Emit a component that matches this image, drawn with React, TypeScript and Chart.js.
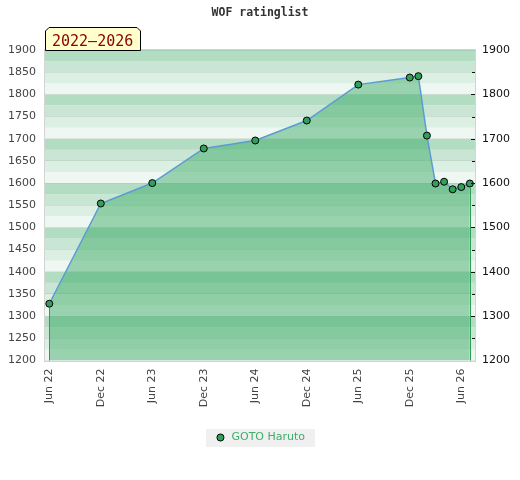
import React, { useEffect, useRef } from 'react';
import { Chart, registerables } from 'chart.js';

Chart.register(...registerables);

const titleText = 'WOF ratinglist';
const periodLabel = '2022–2026';
const seriesName = 'GOTO Haruto';

const dates = [
  '2022-06', '2022-12', '2023-06', '2023-12', '2024-06', '2024-12', '2025-06',
  '2025-12', '2026-01', '2026-02', '2026-03', '2026-04', '2026-05', '2026-06', '2026-07',
];
const ratings = [1328, 1554, 1600, 1678, 1696, 1741, 1822, 1838, 1841, 1707, 1599, 1603, 1586, 1591, 1599];

const xTickLabels = ['Jun 22', 'Dec 22', 'Jun 23', 'Dec 23', 'Jun 24', 'Dec 24', 'Jun 25', 'Dec 25', 'Jun 26'];
const yLeftTicks = [1200, 1250, 1300, 1350, 1400, 1450, 1500, 1550, 1600, 1650, 1700, 1750, 1800, 1850, 1900];
const yRightTicks = [1200, 1300, 1400, 1500, 1600, 1700, 1800, 1900];
const yRightMinorTicks = [1250, 1350, 1450, 1550, 1650, 1750, 1850];

const bandColors = ['#b3ddc3', '#c9e6d4', '#dcefe3', '#eff7f2'];
const monthNames = ['Jan', 'Feb', 'Mar', 'Apr', 'May', 'Jun', 'Jul', 'Aug', 'Sep', 'Oct', 'Nov', 'Dec'];

const BASE_YEAR = 2022;
const BASE_MONTH = 6;
const X_MIN = -0.5;
const X_MAX = 49.6;

function dateToIndex(d: string): number {
  const [y, m] = d.split('-').map(Number);
  return (y - BASE_YEAR) * 12 + (m - BASE_MONTH);
}
function labelToIndex(l: string): number {
  const [mn, yy] = l.split(' ');
  const m = monthNames.indexOf(mn) + 1;
  const y = 2000 + Number(yy);
  return (y - BASE_YEAR) * 12 + (m - BASE_MONTH);
}

const decorPlugin = {
  id: 'decor',
  beforeDraw(chart: any) {
    const { ctx, chartArea } = chart;
    const y = chart.scales.y;
    const { left, right } = chartArea;
    ctx.save();
    for (let v = 1200; v < 1900; v += 25) {
      const top = v + 25;
      const k = (((1900 - top) / 25) % 4 + 4) % 4;
      const py0 = y.getPixelForValue(top);
      const py1 = y.getPixelForValue(v);
      ctx.fillStyle = bandColors[k];
      ctx.fillRect(left, py0, right - left, py1 - py0);
    }
    const lg = chart.legend;
    if (lg && lg.legendHitBoxes && lg.legendHitBoxes.length) {
      const hb = lg.legendHitBoxes[0];
      const cx = hb.left + hb.width / 2;
      const cy = hb.top + hb.height / 2;
      ctx.fillStyle = '#f0f0f0';
      ctx.fillRect(Math.round(cx - 54.5), Math.round(cy - 9), 109, 18);
    }
    ctx.restore();
  },
  beforeDatasetsDraw(chart: any) {
    const { ctx, chartArea } = chart;
    const { left, right, top, bottom } = chartArea;
    ctx.save();
    ctx.strokeStyle = '#d4d4d4';
    ctx.lineWidth = 1;
    ctx.strokeRect(Math.round(left) - 0.5, Math.round(top) - 0.5, Math.round(right - left) + 1, Math.round(bottom - top) + 1);
    ctx.restore();
  },
  afterDatasetsDraw(chart: any) {
    const { ctx, chartArea } = chart;
    const x = chart.scales.x;
    const y = chart.scales.y;
    ctx.save();
    ctx.strokeStyle = '#2e9e52';
    ctx.lineWidth = 1;
    const edges = [0, ratings.length - 1];
    edges.forEach((i) => {
      const px = Math.round(x.getPixelForValue(dateToIndex(dates[i]))) + 0.5;
      const py = y.getPixelForValue(ratings[i]) + 4;
      ctx.beginPath();
      ctx.moveTo(px, py);
      ctx.lineTo(px, chartArea.bottom);
      ctx.stroke();
    });
    ctx.strokeStyle = '#111';
    const r = Math.round(chartArea.right);
    yRightTicks.concat(yRightMinorTicks).forEach((v) => {
      if (v === 1200 || v === 1900) return;
      const py = Math.round(y.getPixelForValue(v)) + 0.5;
      const len = yRightTicks.includes(v) ? 4 : 3;
      ctx.beginPath();
      ctx.moveTo(r - len, py);
      ctx.lineTo(r, py);
      ctx.stroke();
    });
    ctx.restore();
  },
  afterDraw(chart: any) {
    const { ctx, chartArea } = chart;
    const x0 = Math.round(chartArea.left) + 0.5;
    const x1 = x0 + 95;
    const y1 = Math.round(chartArea.top) + 0.5;
    const y0 = y1 - 23;
    const c = 3.5;
    ctx.save();
    ctx.beginPath();
    ctx.moveTo(x0, y1);
    ctx.lineTo(x0, y0 + c);
    ctx.lineTo(x0 + c, y0);
    ctx.lineTo(x1 - c, y0);
    ctx.lineTo(x1, y0 + c);
    ctx.lineTo(x1, y1);
    ctx.closePath();
    ctx.fillStyle = '#ffffcc';
    ctx.fill();
    ctx.strokeStyle = '#000';
    ctx.lineWidth = 1;
    ctx.stroke();
    ctx.fillStyle = '#8b0000';
    ctx.font = '15px "DejaVu Sans Mono"';
    ctx.textBaseline = 'alphabetic';
    ctx.textAlign = 'left';
    ctx.fillText(periodLabel, x0 + 6.5, y1 - 5);
    ctx.restore();
  },
};

export default function App() {
  const ref = useRef<HTMLCanvasElement | null>(null);
  useEffect(() => {
    document.body.style.margin = '0';
    if (!ref.current) return;
    const chart = new Chart(ref.current, {
      type: 'line',
      data: {
        datasets: [
          {
            label: seriesName,
            data: dates.map((d, i) => ({ x: dateToIndex(d), y: ratings[i] })),
            borderColor: '#5b9bd5',
            borderWidth: 1.5,
            backgroundColor: 'rgba(58,170,100,0.48)',
            fill: 'start',
            tension: 0,
            pointRadius: 3.5,
            pointHoverRadius: 3.5,
            pointBackgroundColor: '#30a05a',
            pointBorderColor: '#000',
            pointBorderWidth: 1,
          },
        ],
      },
      options: {
        responsive: false,
        animation: false,
        layout: { padding: { bottom: 27, top: 0, left: 0, right: 0 } },
        plugins: {
          title: {
            display: true,
            text: titleText,
            color: '#333',
            font: { family: '"DejaVu Sans Mono"', size: 11.5, weight: 'bold' },
            padding: { top: 6, bottom: 30.2 },
          },
          legend: {
            display: true,
            position: 'bottom',
            labels: {
              usePointStyle: true,
              pointStyle: 'circle',
              boxWidth: 11,
              boxHeight: 5,
              padding: 10,
              color: '#3cae6a',
              font: { family: '"DejaVu Sans"', size: 11 },
            },
          },
          tooltip: { enabled: false },
        },
        scales: {
          x: {
            type: 'linear',
            min: X_MIN,
            max: X_MAX,
            afterBuildTicks: (scale: any) => {
              scale.ticks = xTickLabels.map((l) => ({ value: labelToIndex(l) }));
            },
            afterFit: (scale: any) => {
              scale.height = 61.5;
            },
            ticks: {
              autoSkip: false,
              minRotation: 90,
              maxRotation: 90,
              padding: 8,
              color: '#444',
              font: { family: '"DejaVu Sans"', size: 11 },
              callback: (_v: any, i: number) => xTickLabels[i],
            },
            grid: { display: false, drawTicks: false },
            border: { display: false },
          },
          y: {
            type: 'linear',
            position: 'left',
            min: 1200,
            max: 1900,
            afterBuildTicks: (scale: any) => {
              scale.ticks = yLeftTicks.map((v) => ({ value: v }));
            },
            afterFit: (scale: any) => {
              scale.width = 45;
            },
            ticks: {
              padding: 9,
              color: '#444',
              font: { family: '"DejaVu Sans"', size: 11 },
              callback: (v: any) => String(v),
            },
            grid: { color: 'rgba(0,0,0,0.07)', drawTicks: false },
            border: { display: false },
          },
          y2: {
            type: 'linear',
            position: 'right',
            min: 1200,
            max: 1900,
            afterBuildTicks: (scale: any) => {
              scale.ticks = yRightTicks.map((v) => ({ value: v }));
            },
            afterFit: (scale: any) => {
              scale.width = 45;
            },
            ticks: {
              padding: 7,
              color: '#111',
              font: { family: '"DejaVu Sans"', size: 11 },
              callback: (v: any) => String(v),
            },
            grid: { drawOnChartArea: false, drawTicks: false },
            border: { display: false },
          },
        },
      } as any,
      plugins: [decorPlugin],
    });
    return () => chart.destroy();
  }, []);
  return (
    <div style={{ width: 520, height: 480 }}>
      <canvas ref={ref} width={520} height={480} />
    </div>
  );
}
